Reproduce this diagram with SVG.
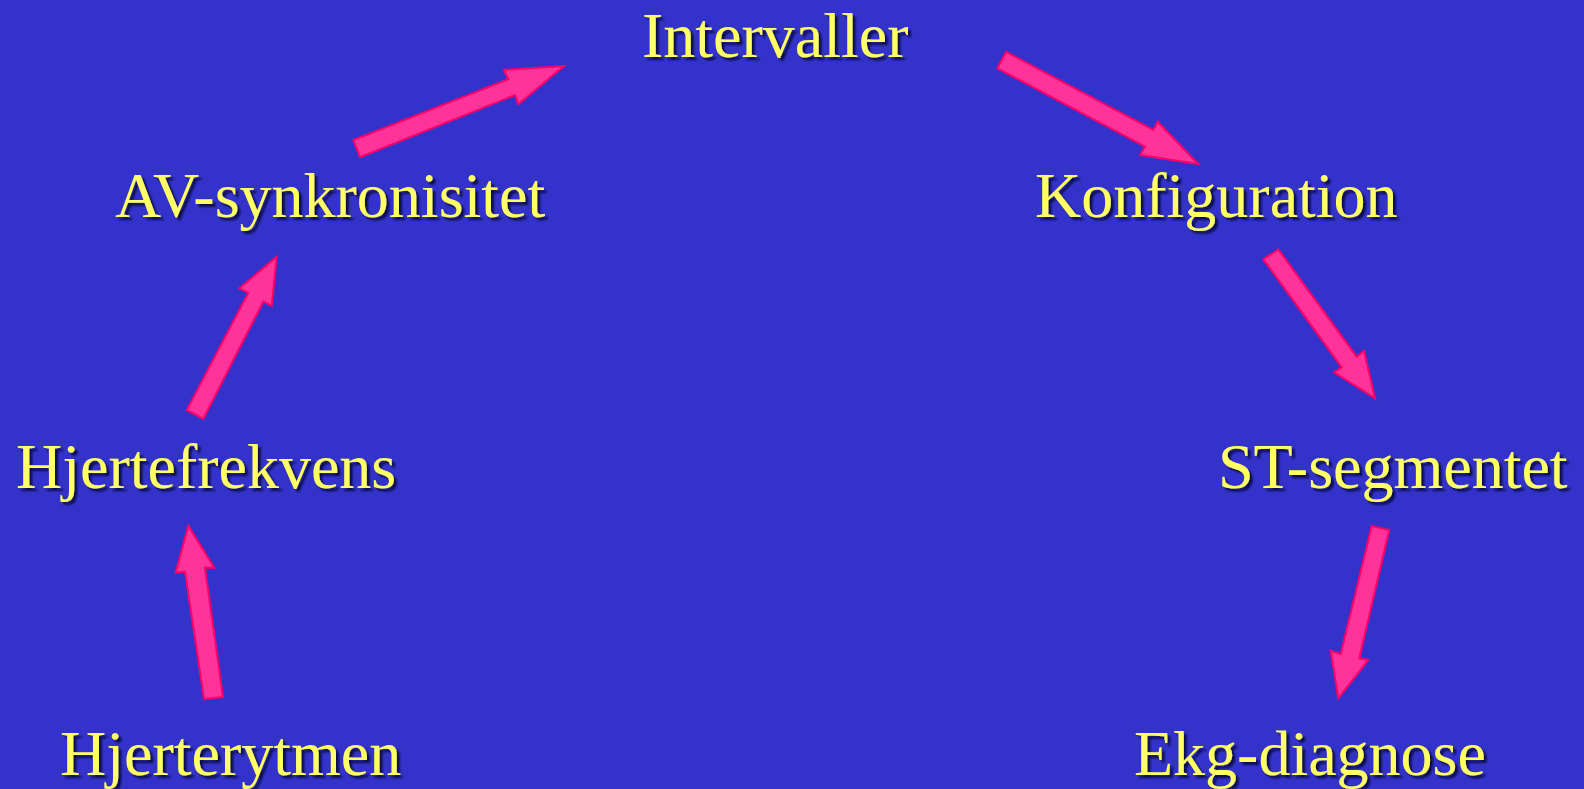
<svg xmlns="http://www.w3.org/2000/svg" width="1584" height="789" viewBox="0 0 1584 789">
<defs>
<filter id="sh" x="-5%" y="-20%" width="110%" height="140%">
<feDropShadow dx="3" dy="3" stdDeviation="1.2" flood-color="#000022" flood-opacity="0.75"/>
</filter>
</defs>
<style>
.lbl{font-family:"Liberation Serif","Times New Roman",serif;font-size:64px;fill:#FFFF66;filter:url(#sh)}
.arr{fill:#FF3399;stroke:#FF0066;stroke-width:2;stroke-linejoin:miter}
</style>
<rect width="1584" height="789" fill="#3333CC"/>
<g id="connectors">
<polygon class="arr" points="204,699 223,697 205,567.5 214.3,567.7 188.3,525.7 175.7,572.7 185,571.7"/>
<polygon class="arr" points="186.7,410 203.3,419 263.3,301.7 271.7,306 276.7,256.7 239.3,288.3 248.3,292.7"/>
<polygon class="arr" points="353.3,140 360,157.3 515,95 518.3,104.3 564,66 504,70 508.3,79.3"/>
<polygon class="arr" points="1006,51.7 997.3,68.3 1145,146.7 1140,155 1198.3,164 1157.7,121.7 1153.3,130"/>
<polygon class="arr" points="1278.3,249.3 1263.3,259.3 1341.7,367.3 1334,372.3 1375,398.3 1364,350.7 1356.7,356.7"/>
<polygon class="arr" points="1371.7,526 1389.3,530 1359.3,658.3 1368.3,660 1338.3,698.3 1330.7,650.7 1340.7,654"/>
</g>
<g id="intervaller"><text class="lbl" x="642" y="57">Intervaller</text></g>
<g id="av"><text class="lbl" x="115" y="217">AV-synkronisitet</text></g>
<g id="konfiguration"><text class="lbl" x="1035" y="217">Konfiguration</text></g>
<g id="hjertefrekvens"><text class="lbl" x="16" y="488">Hjertefrekvens</text></g>
<g id="st"><text class="lbl" x="1218" y="488">ST-segmentet</text></g>
<g id="hjerterytmen"><text class="lbl" x="60" y="775">Hjerterytmen</text></g>
<g id="ekg"><text class="lbl" x="1134" y="775">Ekg-diagnose</text></g>
</svg>
